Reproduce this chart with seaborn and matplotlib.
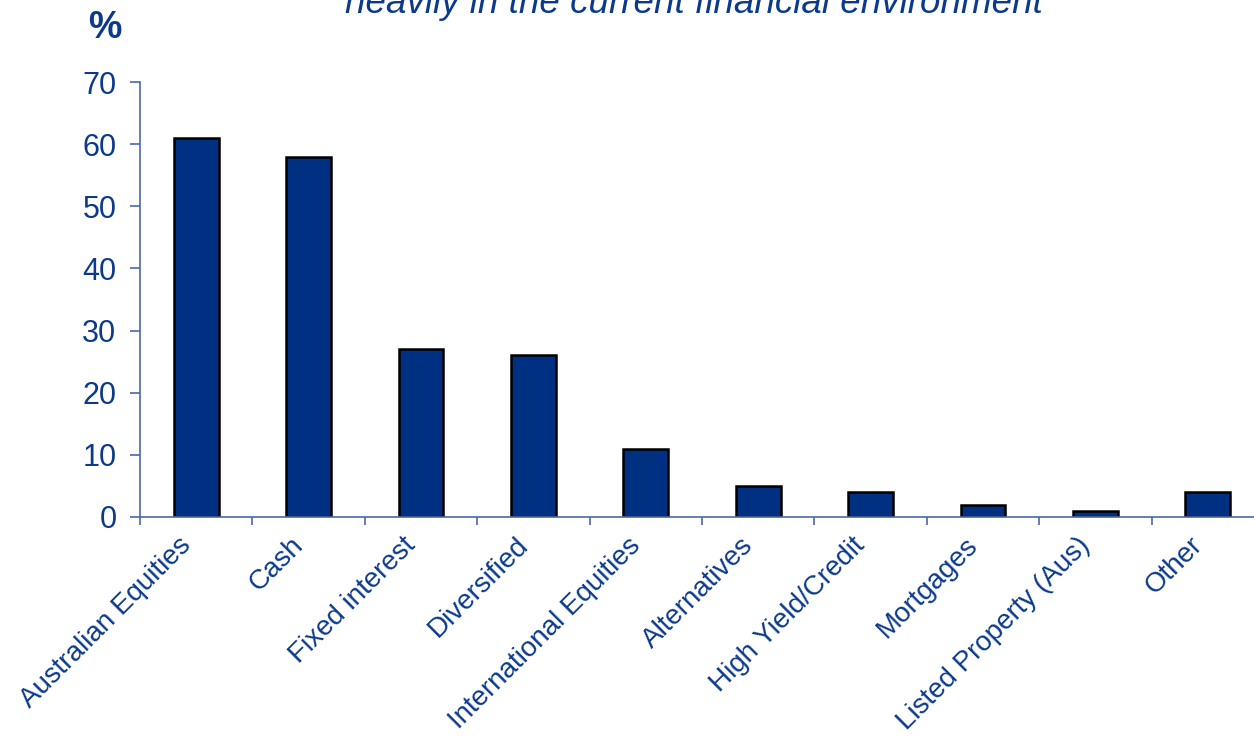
import matplotlib
matplotlib.use("Agg")
import matplotlib.pyplot as plt
import seaborn as sns
import pandas as pd
import numpy as np
from matplotlib.ticker import FixedLocator

categories = ["Australian Equities", "Cash", "Fixed interest", "Diversified",
              "International Equities", "Alternatives", "High Yield/Credit",
              "Mortgages", "Listed Property (Aus)", "Other"]
values = [61, 58, 27, 26, 11, 5, 4, 2, 1, 4]
yticks = [0, 10, 20, 30, 40, 50, 60, 70]
title_line = "heavily in the current financial environment"
y_unit = "%"

sns.set_theme(style="white")
plt.rcParams['font.family'] = ['Liberation Sans', 'DejaVu Sans']

TXT = "#0b3a8c"
BAR = "#003082"
AX = "#4a68a8"

df = pd.DataFrame({"cat": categories, "val": values})

fig = plt.figure(figsize=(12.54, 7.36), dpi=100)
ax = fig.add_axes([140/1254, 1-517/736, 1124/1254, (517-82)/736])

sns.barplot(data=df, x="cat", y="val", color=BAR, width=0.4, saturation=1,
            edgecolor="black", linewidth=1.8, ax=ax)

ax.set_xlim(-0.5, len(categories) - 0.5)
ax.set_ylim(0, 70)
ax.set_yticks(yticks)
ax.set_yticklabels([str(t) for t in yticks], color=TXT, fontsize=22)
ax.set_xticks(range(len(categories)))
ax.set_xticklabels(categories, rotation=45, ha="right", color=TXT, fontsize=20)
ax.xaxis.set_minor_locator(FixedLocator(np.arange(-0.5, len(categories), 1.0)))
ax.tick_params(axis="x", which="major", length=0, pad=11)
ax.tick_params(axis="x", which="minor", length=6, width=1.2, color=AX, direction="out", bottom=True)
ax.tick_params(axis="y", which="major", length=7, width=1.2, color=AX, direction="out", left=True, pad=10)
ax.set_xlabel("")
ax.set_ylabel("")

for s in ["top", "right"]:
    ax.spines[s].set_visible(False)
for s in ["left", "bottom"]:
    ax.spines[s].set_color(AX)
    ax.spines[s].set_linewidth(1.2)

fig.text(105/1254, 1-28/736, y_unit, color=TXT, fontsize=27, fontweight="bold",
         ha="center", va="center")
fig.text(694/1254, 1-13/736, title_line, color=TXT, fontsize=26.5, fontstyle="italic",
         ha="center", va="baseline")

fig.savefig("out.png", dpi=100)
